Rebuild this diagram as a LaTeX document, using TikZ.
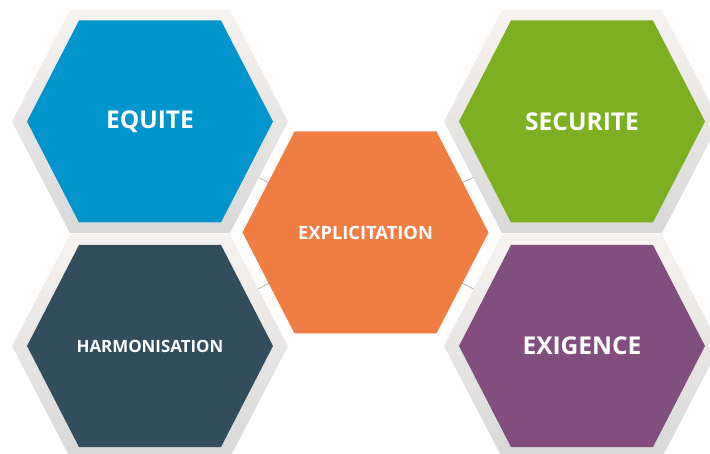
\documentclass[tikz,border=0pt]{standalone}
\usepackage{fontspec}
\setsansfont{Open Sans}
\usepackage{tikz}
\usetikzlibrary{calc,positioning}

\definecolor{hexblue}{RGB}{0,149,205}
\definecolor{hexgreen}{RGB}{124,176,32}
\definecolor{hexorange}{RGB}{240,126,66}
\definecolor{hexslate}{RGB}{49,77,94}
\definecolor{hexpurple}{RGB}{130,78,127}
\definecolor{frametop}{RGB}{247,243,240}
\definecolor{framebot}{RGB}{216,216,216}

\newcommand{\hexframe}[1]{%
  \shade[top color=frametop,bottom color=framebot] (#1) ++(-138,0) -- ++(58,-111.5) -- ++(160,0) -- ++(58,111.5) -- ++(-58,111.5) -- ++(-160,0) -- cycle;}
\newcommand{\hexfill}[2]{%
  \fill[#2] (#1) ++(-123,0) -- ++(52,-101) -- ++(142,0) -- ++(52,101) -- ++(-52,101) -- ++(-142,0) -- cycle;}

\begin{document}
\begin{tikzpicture}[x=1pt,y=-1pt,
		hexlink/.style={draw=gray!70,line width=0.6pt},
		bigtext/.style={text=white,font=\sffamily\bfseries\fontsize{24.5}{28}\selectfont},
		midtext/.style={text=white,font=\sffamily\bfseries\fontsize{18.3}{22}\selectfont},
		smalltext/.style={text=white,font=\sffamily\bfseries\fontsize{16.9}{20}\selectfont}]
		\clip (0,0) rectangle (710,454);
		\coordinate (cequ) at (150,121.5);
		\coordinate (csec) at (582,121.5);
		\coordinate (char) at (150,346);
		\coordinate (cexi) at (582,346);
		\coordinate (cexp) at (365.5,232.5);
		
		\draw[hexlink] (cexp) -- (cequ);
		\draw[hexlink] (cexp) -- (csec);
		\draw[hexlink] (cexp) -- (char);
		\draw[hexlink] (cexp) -- (cexi);
		
		\hexframe{cequ}
		\hexframe{csec}
		\hexframe{char}
		\hexframe{cexi}
		\hexfill{cequ}{hexblue}
		\hexfill{csec}{hexgreen}
		\hexfill{char}{hexslate}
		\hexfill{cexi}{hexpurple}
		\hexfill{cexp}{hexorange}
		
		\node[bigtext] (equite) at (cequ) {EQUITE};
		\node[bigtext] (securite) at (csec) {SECURITE};
		\node[bigtext] (exigence) at (cexi) {EXIGENCE};
		\node[smalltext] (harmo) at (char) {HARMONISATION};
		\node[midtext] (explic) at (cexp) {EXPLICITATION};
	\end{tikzpicture}
\end{document}
